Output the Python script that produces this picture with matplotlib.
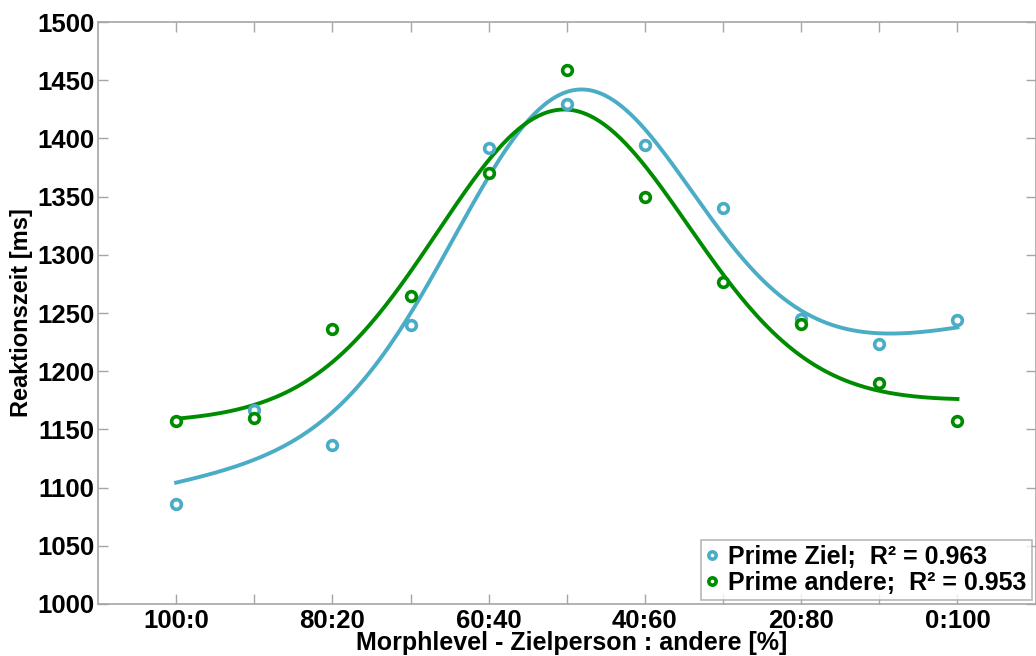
import numpy as np
import matplotlib
matplotlib.use("Agg")
import matplotlib.pyplot as plt

plt.rcParams['font.family'] = ['Liberation Sans', 'DejaVu Sans']
plt.rcParams['font.weight'] = 'bold'

# morph levels (Zielperson : andere)
levels = ['100:0', '90:10', '80:20', '70:30', '60:40', '50:50',
          '40:60', '30:70', '20:80', '10:90', '0:100']
prime_ziel = [1086, 1167, 1137, 1240, 1392, 1430, 1394, 1340, 1245, 1223, 1244]
prime_andere = [1157, 1160, 1236, 1265, 1370, 1459, 1350, 1277, 1241, 1190, 1157]
r2_ziel = 0.963
r2_andere = 0.953

blue = '#4bacc6'
green = '#008c00'
grey = '#a6a6a6'

x = np.arange(1, len(levels) + 1)


def fit_gauss(xs, ys):
    # y = a + b*x + c*exp(-(x-mu)^2 / (2 s^2)), grid search over mu, s
    ys = np.asarray(ys, float)
    best = None
    for mu in np.linspace(4, 8, 161):
        for s in np.linspace(0.6, 3.5, 146):
            g = np.exp(-(xs - mu) ** 2 / (2 * s ** 2))
            A = np.column_stack([np.ones_like(xs, dtype=float), xs, g])
            coef, *_ = np.linalg.lstsq(A, ys, rcond=None)
            err = np.sum((A @ coef - ys) ** 2)
            if best is None or err < best[0]:
                best = (err, mu, s, coef)
    _, mu, s, coef = best
    return lambda t: coef[0] + coef[1] * t + coef[2] * np.exp(-(t - mu) ** 2 / (2 * s ** 2))


fig = plt.figure(figsize=(10.36, 6.56), dpi=100)
ax = fig.add_axes([0.0946, 0.0793, 0.905, 0.887])

xf = np.linspace(1, 11, 300)
for ys, col, lab in [(prime_ziel, blue, 'Prime Ziel;  R² = %.3f' % r2_ziel),
                     (prime_andere, green, 'Prime andere;  R² = %.3f' % r2_andere)]:
    f = fit_gauss(x, ys)
    ax.plot(xf, f(xf), color=col, lw=2.8, zorder=2)
    ax.plot(x, ys, 'o', ms=7, mfc='white', mec=col, mew=2.6, label=lab, zorder=3)

ax.set_xlim(0, 12)
ax.set_ylim(1000, 1500)
ax.set_yticks(np.arange(1000, 1501, 50))
ax.set_xticks(x)
ax.set_xticklabels([l if i % 2 == 0 else '' for i, l in enumerate(levels)])
ax.tick_params(direction='in', length=7, width=1, color=grey, labelsize=18.5,
               top=True, right=True)
ax.tick_params(axis='x', pad=3.5)
ax.tick_params(axis='y', pad=2.5)
for sp in ax.spines.values():
    sp.set_color(grey)
    sp.set_linewidth(1.2)

ax.set_ylabel('Reaktionszeit [ms]', fontsize=17, fontweight='bold')
ax.yaxis.set_label_coords(-0.069, 0.5)
ax.set_xlabel('Morphlevel - Zielperson : andere [%]', fontsize=18,
              fontweight='bold', va='baseline')
ax.xaxis.set_label_coords(0.505, -0.0795)

leg = ax.legend(loc='lower right', fontsize=18, frameon=True, fancybox=False,
                handlelength=0.5, handletextpad=0.4, borderpad=0.2,
                labelspacing=0.1, borderaxespad=0.15, markerscale=0.75)
leg.get_frame().set_edgecolor(grey)
leg.get_frame().set_linewidth(1.2)

fig.savefig('out.png', dpi=100)
